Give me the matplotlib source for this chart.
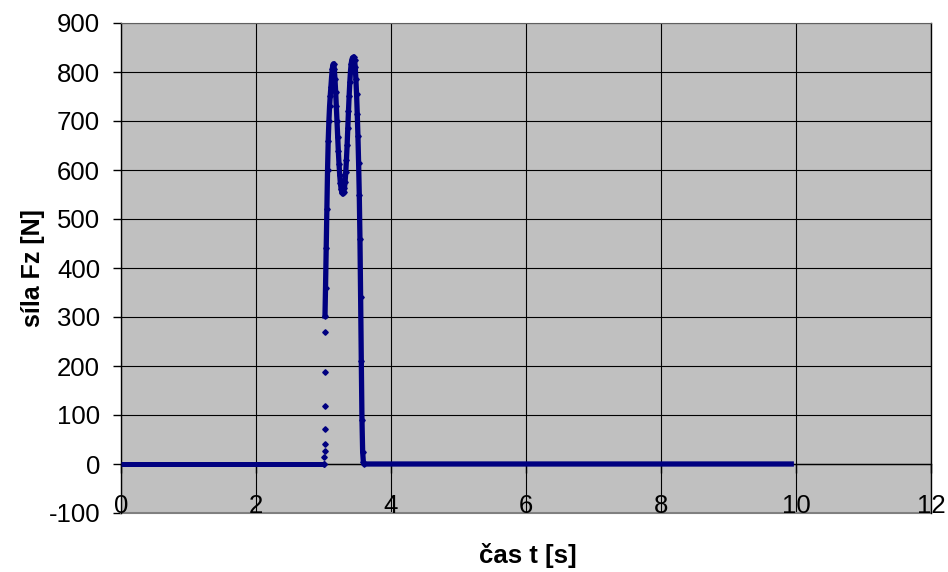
import matplotlib
matplotlib.use('Agg')
import matplotlib.pyplot as plt

plt.rcParams['font.family'] = ['Liberation Sans', 'DejaVu Sans']

# time [s] and vertical force Fz [N]
t_s = [0.0, 3.0, 3.012, 3.014, 3.015, 3.016, 3.017, 3.018, 3.019, 3.020,
       3.022, 3.03, 3.04, 3.05, 3.06, 3.07, 3.08, 3.09, 3.10, 3.11,
       3.12, 3.13, 3.14, 3.15, 3.16, 3.17, 3.18, 3.19, 3.20, 3.21,
       3.22, 3.23, 3.24, 3.25, 3.26, 3.27, 3.28, 3.29, 3.30, 3.31,
       3.32, 3.33, 3.34, 3.35, 3.36, 3.37, 3.38, 3.39, 3.40, 3.41,
       3.42, 3.43, 3.44, 3.45, 3.46, 3.47, 3.48, 3.49, 3.50, 3.51,
       3.52, 3.53, 3.54, 3.55, 3.56, 3.57, 3.58, 3.59, 3.60, 9.93]
force_N = [0, 0, 0, 14, 27, 41, 71, 118, 188, 269,
           302, 360, 440, 520, 600, 660, 700, 730, 752, 770,
           790, 806, 815, 817, 806, 785, 760, 730, 700, 668,
           638, 612, 590, 573, 562, 556, 553, 553, 556, 563,
           576, 596, 621, 651, 686, 720, 752, 780, 802, 817,
           825, 829, 830, 830, 825, 810, 785, 755, 715, 670,
           615, 550, 460, 340, 210, 90, 25, 5, 0, 0]

x_ticks = [0, 2, 4, 6, 8, 10, 12]
y_ticks = [-100, 0, 100, 200, 300, 400, 500, 600, 700, 800, 900]

navy = '#000080'

fig = plt.figure(figsize=(9.48, 5.72), dpi=100)
ax = fig.add_axes([121 / 948, 1 - 513 / 572, (931 - 121) / 948, (513 - 23) / 572])
ax.set_facecolor('#C0C0C0')

# continuous parts drawn as thick line, isolated rise samples as dots
i_base_end = t_s.index(3.012) + 1
i_rise = t_s.index(3.022)
ax.plot(t_s[:i_base_end], force_N[:i_base_end], color=navy, lw=3.6,
        solid_capstyle='butt', zorder=3)
ax.plot(t_s[i_rise:], force_N[i_rise:], color=navy, lw=3.8,
        solid_joinstyle='round', zorder=3)
ax.plot(t_s[1:-1], force_N[1:-1], linestyle='none', marker='D',
        markersize=2.8, color=navy, zorder=4)

ax.set_xlim(0, 12)
ax.set_ylim(-100, 900)
ax.set_xticks(x_ticks)
ax.set_yticks(y_ticks)
ax.set_yticklabels([str(v) for v in y_ticks], fontsize=18.5)
ax.grid(True, color='black', lw=0.8)
ax.set_axisbelow(True)

ax.spines['bottom'].set_position(('data', 0))
ax.spines['bottom'].set_linewidth(1.0)
ax.spines['left'].set_linewidth(1.0)
ax.spines['right'].set_linewidth(1.0)
ax.spines['top'].set_color('#606060')
ax.axhline(-100, color='#808080', lw=1.5, zorder=2, clip_on=False)

ax.tick_params(axis='x', direction='out', length=6.5, width=1.0,
               labelbottom=False)
ax.tick_params(axis='y', direction='out', length=6, width=1.0, pad=9)

for v in x_ticks:
    ax.text(v, -100, str(v), ha='center', va='baseline', fontsize=18.5,
            zorder=5)

fig.text(33 / 948, 1 - 268 / 572, 'síla Fz [N]', rotation=90,
         ha='center', va='center', fontsize=18, fontweight='bold')
fig.text(528 / 948, 1 - 556 / 572, 'čas t [s]', ha='center', va='center',
         fontsize=18.5, fontweight='bold')

fig.savefig('out.png', dpi=100, facecolor='white')
